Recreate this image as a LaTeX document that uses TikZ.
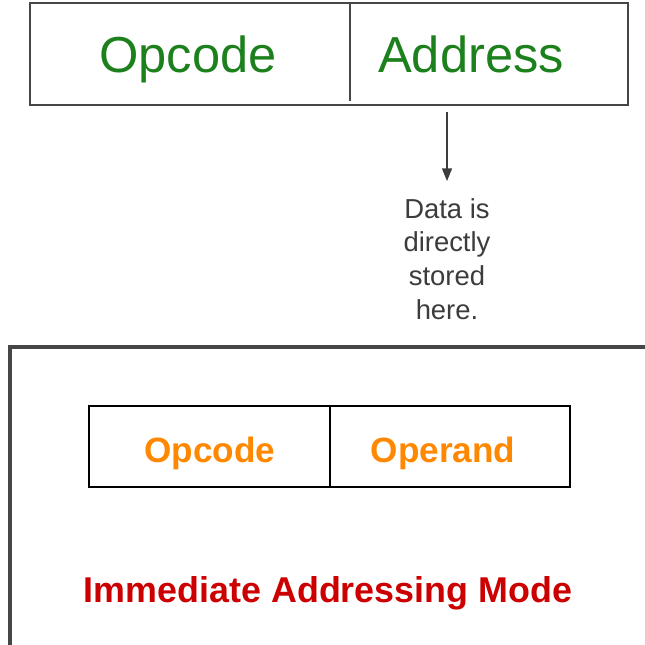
\documentclass[tikz,border=0pt]{standalone}
\usepackage{fontspec}
\setmainfont{Liberation Sans}
\usetikzlibrary{arrows.meta}

\definecolor{fieldgreen}{RGB}{28,128,28}
\definecolor{fieldorange}{RGB}{255,136,0}
\definecolor{modered}{RGB}{204,0,0}
\definecolor{framegray}{RGB}{70,70,70}
\definecolor{notegray}{RGB}{60,60,60}

\tikzset{
    bigfield/.style={anchor=base, inner sep=0pt, text=fieldgreen,
        font=\fontsize{36}{40}\selectfont},
    smallfield/.style={anchor=base, inner sep=0pt, text=fieldorange,
        font=\bfseries\fontsize{25}{28}\selectfont},
}

\begin{document}
\begin{tikzpicture}[x=0.025cm, y=-0.025cm]
    \useasboundingbox (0,0) rectangle (645,645);

    % instruction format
    \draw[framegray, line width=1.6pt] (30,3) rectangle (628,105);
    \draw[framegray, line width=1.2pt] (350,3) -- (350,101);
    \node[bigfield] (opcode) at (188,72) {Opcode};
    \node[bigfield] (address) at (471,72) {Address};

    % where the data lives
    \node[anchor=north, align=center, text=notegray, inner sep=0pt,
          font=\fontsize{19.5}{24}\selectfont] (note) at (447,198)
          {Data is\\directly\\stored\\here.};
    \coordinate (tail) at (447,112);
    \draw[notegray, line width=1pt, -{Triangle[length=9pt,width=7pt]}] (tail) -- ([yshift=12pt]note.north);

    % lower frame
    \draw[framegray, line width=2.2pt] (645,347) -- (10,347) -- (10,645);
    \draw[black, line width=2pt] (89,406) rectangle (570,487);
    \draw[black, line width=2pt] (330,406) -- (330,487);
    \node[smallfield] (code) at (210,462) {Opcode};
    \node[smallfield] (operand) at (443,462) {Operand};
    \node[anchor=base, text=modered, font=\bfseries\fontsize{25.5}{28}\selectfont] (mode) at (328,602)
          {Immediate Addressing Mode};
\end{tikzpicture}
\end{document}
